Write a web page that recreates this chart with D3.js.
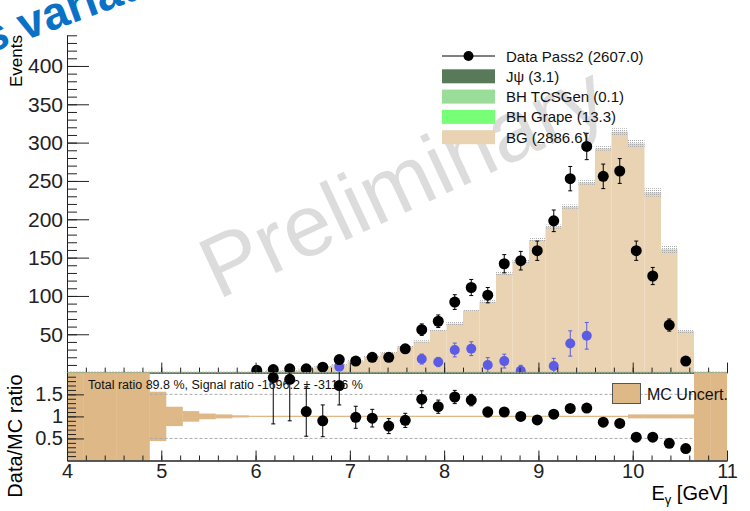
<!DOCTYPE html>
<html>
<head>
<meta charset="utf-8">
<script src="https://cdn.jsdelivr.net/npm/d3@7"></script>
<style>
  body { margin: 0; background: #fff; }
  svg { font-family: "Liberation Sans", Arial, sans-serif; }
</style>
</head>
<body>
<div id="chart"></div>
<script>
// binning of E_gamma (GeV)
const xMin = 4, xMax = 11, nBins = 40;
const binWidth = (xMax - xMin) / nBins;

// MC background (stacked BG), per bin
const bgCounts = [0, 0, 0, 0, 0, 0.1, 0.2, 0.3, 0.5, 0.6,
  0.8, 1.2, 2.3, 2.7, 4.5, 8, 10.2, 15, 20.6, 25.6,
  34, 40.6, 55, 64, 81, 92.5, 129, 145, 173, 190.4,
  216.5, 248, 292.5, 314.3, 299, 235, 161, 54, 0, 0];
// MC stat. uncertainty (hatched band)
const bgErr = [0, 0, 0, 0, 0, 0, 0, 0, 0, 0,
  0, 0.3, 0.4, 0.5, 0.6, 0.8, 0.9, 1, 1.2, 1.3,
  1.5, 1.6, 1.8, 2, 2, 2, 2.2, 2.4, 2.5, 2.6,
  2.8, 3, 3, 4.4, 4.8, 5.5, 5.5, 3, 0, 0];

// data Pass2, bins 11..37
const dataFirstBin = 11;
const dataCounts = [3, 4, 5, 5, 7, 17, 15, 20, 20, 31, 56, 67, 92, 111, 101,
  142, 146, 159, 198, 253, 295, 256, 263, 159, 126, 62, 15];
const dataErr = [1.7, 2, 2.2, 2.2, 2.6, 4.1, 3.9, 4.5, 4.5, 5.6, 7.5, 8.2, 9.6, 10.5, 10,
  11.9, 12.1, 12.6, 14.1, 15.9, 17.2, 16, 16.2, 12.6, 11.2, 7.9, 3.9];

// blue points (data - BG)
const sigBins = [16, 21, 22, 23, 24, 25, 26, 27, 29, 30, 31];
const sigVals = [7.7, 17.7, 13.8, 29.5, 31.2, 9.9, 15, 2.5, 8.6, 38, 48];
const sigErr = [4, 6.5, 6, 9, 9, 9.6, 9, 7, 10, 16.5, 17.4];

// ratio panel
const ratioFirstBin = 12;
const ratioVals = [1.88, 1.84, 1.11, 0.9, 1.7, 0.98, 0.96, 0.78, 0.91, 1.39, 1.22, 1.44, 1.37,
  1.1, 1.1, 1.0, 0.92, 1.05, 1.18, 1.19, 0.87, 0.84, 0.53, 0.53, 0.39, 0.27];
const ratioErr = [1.05, 0.94, 0.56, 0.36, 0.44, 0.25, 0.2, 0.17, 0.16, 0.19, 0.15, 0.15, 0.13,
  0.11, 0.09, 0.08, 0.07, 0.07, 0.07, 0.07, 0.05, 0.05, 0.04, 0.05, 0.05, 0.07];
// relative MC uncertainty, null = no MC in bin
const mcRelErr = [null, null, null, null, null, 0.56, 0.22, 0.12, 0.065, 0.045,
  0.025, 0.015, 0.015, 0.015, 0.015, 0.015, 0.015, 0.015, 0.015, 0.015,
  0.015, 0.015, 0.015, 0.015, 0.015, 0.015, 0.015, 0.015, 0.015, 0.015,
  0.015, 0.015, 0.015, 0.015, 0.045, 0.045, 0.045, 0.045, null, null];

const legendItems = [
  { label: "Data Pass2 (2607.0)", type: "marker" },
  { label: "J\u03c8 (3.1)", color: "#587a58" },
  { label: "BH TCSGen (0.1)", color: "#99dd99" },
  { label: "BH Grape (13.3)", color: "#77ff77" },
  { label: "BG (2886.6)", color: "#e9d3b2" }
];

const W = 750, H = 511;
const bgColor = "#e9d3b2", bandColor = "#deb887", blue = "#5b5be6";

const svg = d3.select("#chart").append("svg")
  .attr("width", W).attr("height", H);

const defs = svg.append("defs");
const pat = defs.append("pattern").attr("id", "dots")
  .attr("width", 2).attr("height", 2).attr("patternUnits", "userSpaceOnUse");
pat.append("rect").attr("width", 1).attr("height", 1).attr("fill", "#aaa");
defs.append("clipPath").attr("id", "clipTop").append("rect")
  .attr("x", 67).attr("y", 0).attr("width", 660).attr("height", 372.6);
defs.append("clipPath").attr("id", "clipBot").append("rect")
  .attr("x", 67).attr("y", 372.3).attr("width", 660).attr("height", 88.2);

// scales
const x = d3.scaleLinear().domain([xMin, xMax]).range([67, 727]);
const yTop = d3.scaleLinear().domain([0, 440]).range([372.6, 35.3]);
const yR = d3.scaleLinear().domain([0, 2]).range([460.5, 372.3]);
const edge = i => xMin + i * binWidth;
const center = i => xMin + (i + 0.5) * binWidth;

// blue title remnant at top-left (cut by the page edge, as in the original)
svg.append("text")
  .attr("transform", "translate(-84,80) rotate(-20)")
  .attr("font-size", 46).attr("font-weight", "bold")
  .attr("fill", "#0a72c6")
  .text("Cuts variation");

// watermark
svg.append("text")
  .attr("transform", "translate(218,300) rotate(-25)")
  .attr("font-size", 87)
  .attr("fill", "#dcdcdc")
  .text("Preliminary");

// ---------- upper panel ----------
const upper = svg.append("g").attr("clip-path", "url(#clipTop)");

upper.selectAll("rect.bg")
  .data(bgCounts.map((v, i) => ({ v, i })).filter(d => d.v > 0))
  .enter().append("rect")
  .attr("x", d => x(edge(d.i)))
  .attr("width", d => x(edge(d.i + 1)) - x(edge(d.i)))
  .attr("y", d => yTop(d.v))
  .attr("height", d => yTop(0) - yTop(d.v))
  .attr("fill", bgColor);

upper.selectAll("rect.hatch")
  .data(bgCounts.map((v, i) => ({ v, e: bgErr[i], i })).filter(d => d.e > 0))
  .enter().append("rect")
  .attr("x", d => x(edge(d.i)))
  .attr("width", d => x(edge(d.i + 1)) - x(edge(d.i)))
  .attr("y", d => yTop(d.v + d.e))
  .attr("height", d => yTop(d.v - d.e) - yTop(d.v + d.e))
  .attr("fill", "url(#dots)");

// green zero line of the tiny BH / J/psi components
upper.append("line")
  .attr("x1", x(xMin)).attr("x2", x(xMax))
  .attr("y1", yTop(0) - 0.5).attr("y2", yTop(0) - 0.5)
  .attr("stroke", "#8fc98f").attr("stroke-dasharray", "2,1");

function drawPoints(g, pts, yScale, color, r) {
  const sel = g.append("g").selectAll("g").data(pts).enter().append("g");
  sel.append("line")
    .attr("x1", d => x(d.x)).attr("x2", d => x(d.x))
    .attr("y1", d => yScale(d.y + d.e)).attr("y2", d => yScale(d.y - d.e))
    .attr("stroke", color).attr("stroke-width", 1);
  [1, -1].forEach(s => {
    sel.append("line")
      .attr("x1", d => x(d.x) - 2).attr("x2", d => x(d.x) + 2)
      .attr("y1", d => yScale(d.y + s * d.e)).attr("y2", d => yScale(d.y + s * d.e))
      .attr("stroke", color).attr("stroke-width", 1);
  });
  sel.append("circle")
    .attr("cx", d => x(d.x)).attr("cy", d => yScale(d.y))
    .attr("r", r).attr("fill", color);
}

drawPoints(upper, sigBins.map((b, i) => ({ x: center(b), y: sigVals[i], e: sigErr[i] })), yTop, blue, 5);
drawPoints(upper, dataCounts.map((v, i) => ({ x: center(dataFirstBin + i), y: v, e: dataErr[i] })), yTop, "#000", 5.5);

// upper axes
const axisColor = "#222";
const yAxisMinor = svg.append("g").attr("transform", "translate(67,0)")
  .call(d3.axisLeft(yTop).tickValues(d3.range(10, 441, 10)).tickSize(-10).tickSizeOuter(0).tickFormat(""));
const yAxis = svg.append("g").attr("transform", "translate(67,0)")
  .call(d3.axisLeft(yTop).tickValues(d3.range(50, 401, 50)).tickSize(-22).tickSizeOuter(0).tickPadding(4));
yAxis.selectAll("text").attr("font-size", 21).attr("font-family", "Liberation Sans, Arial, sans-serif");

const xTopMinor = svg.append("g").attr("transform", `translate(0,${yTop(0)})`)
  .call(d3.axisBottom(x).tickValues(d3.range(xMin, xMax + 0.001, 0.2)).tickSize(-5).tickSizeOuter(0).tickFormat(""));
const xTopMajor = svg.append("g").attr("transform", `translate(0,${yTop(0)})`)
  .call(d3.axisBottom(x).tickValues(d3.range(xMin, xMax + 0.001, 1)).tickSize(-10).tickSizeOuter(0).tickFormat(""));
[yAxisMinor, yAxis, xTopMinor, xTopMajor].forEach(a => a.attr("color", axisColor));
xTopMinor.select(".domain").attr("stroke", "#999");

svg.append("text")
  .attr("transform", "translate(22,35) rotate(-90)")
  .attr("text-anchor", "end").attr("font-size", 17)
  .text("Events");

// legend
const leg = svg.append("g");
legendItems.forEach((d, i) => {
  const yc = 56 + i * 20.3;
  if (d.type === "marker") {
    leg.append("line").attr("x1", 442).attr("x2", 495).attr("y1", yc).attr("y2", yc)
      .attr("stroke", "#000");
    leg.append("circle").attr("cx", 468.5).attr("cy", yc).attr("r", 5).attr("fill", "#000");
  } else {
    leg.append("rect").attr("x", 442).attr("y", yc - 7).attr("width", 53).attr("height", 14)
      .attr("fill", d.color);
  }
  leg.append("text").attr("x", 506).attr("y", yc + 5.5)
    .attr("font-size", 15).attr("fill", "#111").text(d.label);
});

// ---------- ratio panel ----------
const bot = svg.append("g").attr("clip-path", "url(#clipBot)");

bot.selectAll("rect.band")
  .data(mcRelErr.map((e, i) => ({ e, i })))
  .enter().append("rect")
  .attr("x", d => x(edge(d.i)))
  .attr("width", d => x(edge(d.i + 1)) - x(edge(d.i)) + 0.3)
  .attr("y", d => d.e === null ? yR(2) : yR(1 + d.e))
  .attr("height", d => d.e === null ? yR(0) - yR(2) : yR(1 - d.e) - yR(1 + d.e))
  .attr("fill", bandColor);

[0.5, 1.5].forEach(v => {
  bot.append("line")
    .attr("x1", x(edge(5))).attr("x2", x(edge(38)))
    .attr("y1", yR(v)).attr("y2", yR(v))
    .attr("stroke", "#aaa").attr("stroke-dasharray", "3,2");
});
bot.append("line")
  .attr("x1", x(xMin)).attr("x2", x(xMax))
  .attr("y1", yR(2) + 0.5).attr("y2", yR(2) + 0.5)
  .attr("stroke", "#8fc98f").attr("stroke-dasharray", "2,1");

drawPoints(bot, ratioVals.map((v, i) => ({ x: center(ratioFirstBin + i), y: v, e: ratioErr[i] })), yR, "#000", 5.5);

svg.append("text").attr("x", 88).attr("y", 389)
  .attr("font-size", 12.5).attr("fill", "#111")
  .text("Total ratio 89.8 %, Signal ratio -1696.2 \u00b1 -311.6 %");

// MC uncert legend
svg.append("rect").attr("x", 612.5).attr("y", 383.5).attr("width", 28).attr("height", 20)
  .attr("fill", bandColor).attr("stroke", "#555");
svg.append("text").attr("x", 647).attr("y", 399.5)
  .attr("font-size", 16).attr("fill", "#111").text("MC Uncert.");

// lower axes
const yRMinor = svg.append("g").attr("transform", "translate(67,0)")
  .call(d3.axisLeft(yR).tickValues(d3.range(0.1, 2, 0.1)).tickSize(-9).tickSizeOuter(0).tickFormat(""));
const yRAxis = svg.append("g").attr("transform", "translate(67,0)")
  .call(d3.axisLeft(yR).tickValues([0.5, 1, 1.5]).tickSize(-17).tickSizeOuter(0).tickPadding(4)
    .tickFormat(d => String(d)));
yRAxis.selectAll("text").attr("font-size", 20).attr("font-family", "Liberation Sans, Arial, sans-serif");

const xMinorB = svg.append("g").attr("transform", `translate(0,${yR(0)})`)
  .call(d3.axisBottom(x).tickValues(d3.range(xMin, xMax + 0.001, 0.2)).tickSize(-5).tickSizeOuter(0).tickFormat(""));
const xAxisB = svg.append("g").attr("transform", `translate(0,${yR(0)})`)
  .call(d3.axisBottom(x).tickValues(d3.range(xMin, xMax + 0.001, 1)).tickSize(-10).tickSizeOuter(0).tickPadding(3)
    .tickFormat(d3.format("d")));
xAxisB.selectAll("text").attr("font-size", 20).attr("font-family", "Liberation Sans, Arial, sans-serif");
[yRMinor, yRAxis, xMinorB, xAxisB].forEach(a => a.attr("color", axisColor));

svg.append("text")
  .attr("transform", "translate(22,436) rotate(-90)")
  .attr("text-anchor", "middle").attr("font-size", 20)
  .text("Data/MC ratio");

const xt = svg.append("text").attr("x", 728).attr("y", 500)
  .attr("text-anchor", "end").attr("font-size", 20);
xt.append("tspan").text("E");
xt.append("tspan").attr("font-size", 13).attr("dy", 4).text("\u03b3");
xt.append("tspan").attr("dy", -4).text(" [GeV]");
</script>
</body>
</html>
